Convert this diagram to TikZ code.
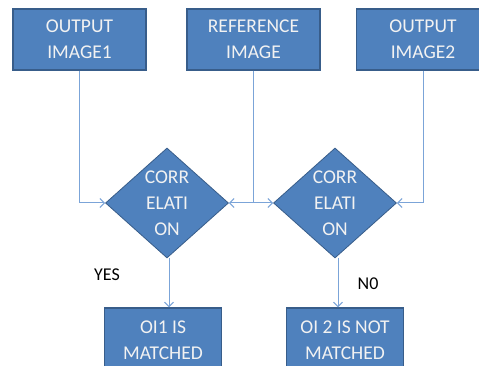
\documentclass[tikz,border=0pt]{standalone}
\usepackage{fontspec}
\setmainfont{Carlito}
\usetikzlibrary{shapes.geometric,arrows.meta}
\definecolor{boxfill}{HTML}{4F81BD}
\definecolor{boxline}{HTML}{385D8A}
\definecolor{connline}{HTML}{7BA4D8}
\definecolor{boxtext}{HTML}{F2F2F2}
\tikzset{
  blockbox/.style={rectangle, draw=boxline, fill=boxfill, line width=1.2pt,
    minimum width=133pt, minimum height=61pt, inner sep=0pt,
    text=boxtext, align=center, font=\fontsize{19.5}{26}\selectfont},
  lowbox/.style={blockbox, minimum width=117pt, minimum height=64pt},
  decision/.style={diamond, draw=boxline, fill=boxfill, line width=0.8pt,
    minimum width=123pt, minimum height=110pt, inner sep=0pt},
  dectext/.style={text=boxtext, align=center, inner sep=0pt,
    font=\fontsize{19.5}{26}\selectfont},
  conn/.style={draw=connline, line width=1pt,
    -{Straight Barb[length=4.5pt,width=9pt]}},
  lbl/.style={text=black, inner sep=0pt, font=\fontsize{18}{20}\selectfont}
}
\begin{document}
\begin{tikzpicture}[x=1pt,y=-1pt]
\useasboundingbox (0,0) rectangle (479,366);
\clip (0,0) rectangle (479,366);
\fill[white] (0,0) rectangle (479,366);
% top boxes
\node[blockbox] (b1) at (79.5,39.5) {OUTPUT\\IMAGE1};
\node[blockbox] (b2) at (253.5,39.5) {REFERENCE\\IMAGE};
\node[blockbox] (b3) at (423,39.5) {OUTPUT\\IMAGE2};
% decisions
\node[decision] (d1) at (167,203) {};
\node[dectext] (d1t) at (167,203) {CORR\\ELATI\\ON};
\node[decision] (d2) at (335,203) {};
\node[dectext] (d2t) at (335,203) {CORR\\ELATI\\ON};
% bottom boxes
\node[lowbox] (o1) at (163,340) {OI1 IS\\MATCHED};
\node[lowbox] (o2) at (345,340) {OI 2 IS NOT\\MATCHED};
% labels
\node[lbl] (yes) at (107,275) {YES};
\node[lbl] (no) at (368,284) {N0};
% connectors
\draw[conn] (b1.south) |- (d1.west);
\draw[conn] (b2.south) |- (d1.east);
\draw[conn] (b2.south) |- (d2.west);
\draw[conn] (b3.south) |- (d2.east);
\draw[conn] ([xshift=2pt]d1.south) -- ([xshift=2pt]d1.south |- o1.north);
\draw[conn] ([xshift=3pt]d2.south) -- ([xshift=3pt]d2.south |- o2.north);
\end{tikzpicture}
\end{document}
